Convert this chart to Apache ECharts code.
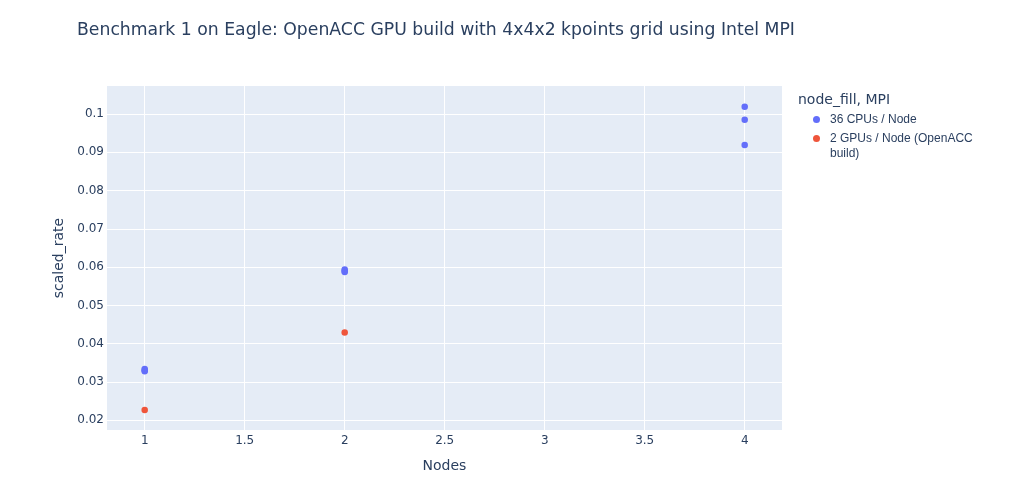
<!DOCTYPE html>
<html>
<head>
<meta charset="utf-8">
<script src="https://cdn.jsdelivr.net/npm/echarts@6/dist/echarts.min.js"></script>
<style>
html,body{margin:0;padding:0;background:#fff;}
#chart{width:1033px;height:501px;}
</style>
</head>
<body>
<div id="chart"></div>
<script>
var cpuNodes = [1, 1, 1, 2, 2, 2, 4, 4, 4];
var cpuRate = [0.0328, 0.0331, 0.0334, 0.0587, 0.0590, 0.0594, 0.0919, 0.0985, 0.1019];
var gpuNodes = [1, 2];
var gpuRate = [0.0227, 0.0429];
var xTicks = [1, 1.5, 2, 2.5, 3, 3.5, 4];
var yTicks = [0.02, 0.03, 0.04, 0.05, 0.06, 0.07, 0.08, 0.09, 0.1];
var seriesNames = ['36 CPUs / Node', '2 GPUs / Node (OpenACC build)'];

function pairs(xs, ys) { return xs.map(function (x, i) { return [x, ys[i]]; }); }

var font = '"DejaVu Sans", Verdana, sans-serif';
var txt = '#2a3f5f';
var chart = echarts.init(document.getElementById('chart'), null, {renderer: 'canvas'});
chart.setOption({
  animation: false,
  backgroundColor: '#fff',
  title: [{
    text: 'Benchmark 1 on Eagle: OpenACC GPU build with 4x4x2 kpoints grid using Intel MPI',
    left: 77, top: 22, padding: 0,
    textStyle: {fontFamily: font, fontSize: 17.25, fontWeight: 'normal', color: txt}
  }, {
    text: 'node_fill, MPI',
    left: 798, top: 93, padding: 0,
    textStyle: {fontFamily: font, fontSize: 14, fontWeight: 'normal', color: txt}
  }],
  legend: {
    orient: 'vertical',
    left: 813, top: 112, padding: 0,
    icon: 'circle',
    itemWidth: 7, itemHeight: 7,
    itemGap: -11,
    data: seriesNames,
    formatter: function (name) {
      // wrap the long label the way the reference does, first line level with its marker
      return name === seriesNames[1] ? '\n2 GPUs / Node (OpenACC\nbuild)' : name;
    },
    textStyle: {fontFamily: 'Liberation Sans, Arial, sans-serif', fontSize: 12, color: txt, lineHeight: 15, padding: [0, 0, 0, 5]}
  },
  grid: {
    left: 107, top: 86, right: 251, bottom: 71,
    show: true, backgroundColor: '#E5ECF6', borderWidth: 0
  },
  xAxis: {
    type: 'value',
    min: 0.8115, max: 4.1865,
    name: 'Nodes', nameLocation: 'middle', nameGap: 29,
    nameTextStyle: {fontFamily: font, fontSize: 14, color: txt},
    axisLine: {show: false},
    axisTick: {show: false, customValues: xTicks},
    axisLabel: {customValues: xTicks, fontFamily: font, fontSize: 12, color: txt, margin: 5},
    splitLine: {show: true, lineStyle: {color: '#fff', width: 1}}
  },
  yAxis: {
    type: 'value',
    min: 0.01747, max: 0.1073,
    name: 'scaled_rate', nameLocation: 'middle', nameGap: 36,
    nameTextStyle: {fontFamily: font, fontSize: 14, color: txt},
    axisLine: {show: false},
    axisTick: {show: false, customValues: yTicks},
    axisLabel: {customValues: yTicks, fontFamily: font, fontSize: 12, color: txt, margin: 3,
      formatter: function (v) { return String(parseFloat(v.toFixed(4))); }},
    splitLine: {show: true, lineStyle: {color: '#fff', width: 1}}
  },
  series: [{
    name: seriesNames[0], type: 'scatter', symbolSize: 6.5,
    itemStyle: {color: '#636efa', opacity: 1},
    data: pairs(cpuNodes, cpuRate)
  }, {
    name: seriesNames[1], type: 'scatter', symbolSize: 6.5,
    itemStyle: {color: '#EF553B', opacity: 1},
    data: pairs(gpuNodes, gpuRate)
  }]
});
</script>
</body>
</html>
